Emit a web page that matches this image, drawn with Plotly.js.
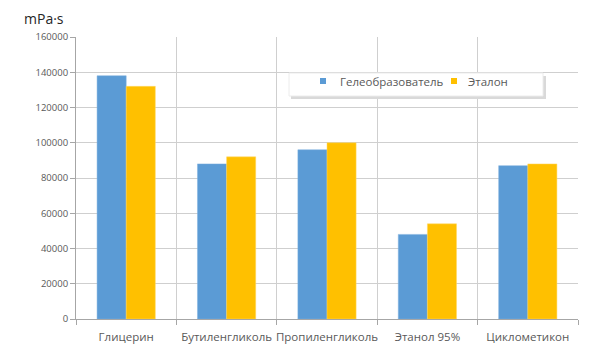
<!DOCTYPE html>
<html>
<head>
<meta charset="utf-8">
<script src="https://cdn.plot.ly/plotly-3.0.1.min.js"></script>
<style>html,body{margin:0;padding:0;background:#fff;}#chart{width:607px;height:359px;}</style>
</head>
<body>
<div id="chart"></div>
<script>
var categories = ["Глицерин", "Бутиленгликоль", "Пропиленгликоль", "Этанол 95%", "Циклометикон"];
var seriesNames = ["Гелеобразователь", "Эталон"];
var seriesColors = ["#5b9bd5", "#ffc000"];
var gelValues = [138000, 88000, 96000, 48000, 87000];
var refValues = [132000, 92000, 100000, 54000, 88000];
var yTickVals = [0, 20000, 40000, 60000, 80000, 100000, 120000, 140000, 160000];
var unitLabel = "mPa·s";

var W = 607, H = 359;
var L = 76, R = 29, T = 37, B = 40;
var pw = W - L - R, ph = H - T - B;
function px(x) { return (x - L) / pw; }
function py(y) { return (H - B - y) / ph; }

var font = "'Open Sans', 'DejaVu Sans', sans-serif";

var traces = [
  { type: "bar", name: seriesNames[0], x: categories, y: gelValues, showlegend: false,
    marker: { color: seriesColors[0], line: { color: "#7fb0de", width: 0.5 } } },
  { type: "bar", name: seriesNames[1], x: categories, y: refValues, showlegend: false,
    marker: { color: seriesColors[1], line: { color: "#ffd966", width: 0.5 } } }
];

// legend drawn as a framed box with square swatches and text labels
var legendSwatchX = [320, 451];
var legendTextX = [338, 466];
var legendY = 81;

var shapes = [
  { type: "rect", xref: "paper", yref: "paper", x0: px(291), x1: px(546), y0: py(76), y1: py(99),
    fillcolor: "#d9d9d9", line: { width: 0 }, layer: "above" },
  { type: "rect", xref: "paper", yref: "paper", x0: px(289), x1: px(543), y0: py(73), y1: py(96),
    fillcolor: "#ffffff", line: { color: "#ececec", width: 1 }, layer: "above" }
];
var annotations = [];
for (var i = 0; i < seriesNames.length; i++) {
  shapes.push({ type: "rect", xref: "paper", yref: "paper",
    x0: px(legendSwatchX[i]), x1: px(legendSwatchX[i] + 6), y0: py(legendY - 3), y1: py(legendY + 3),
    fillcolor: seriesColors[i], line: { width: 0 }, layer: "above" });
  annotations.push({ xref: "paper", yref: "paper", x: px(legendTextX[i]), y: py(legendY),
    xanchor: "left", yanchor: "middle", showarrow: false, text: seriesNames[i],
    font: { family: font, size: 11.5, color: "#595959" } });
}

var layout = {
  width: W, height: H,
  margin: { l: L, r: R, t: T, b: B, pad: 0 },
  paper_bgcolor: "#ffffff", plot_bgcolor: "#ffffff",
  font: { family: font, color: "#595959", size: 10 },
  title: { text: unitLabel, xref: "container", yref: "container", x: 24 / W, xanchor: "left",
           y: 1 - 19 / H, yanchor: "middle", font: { family: font, size: 14, color: "#262626" } },
  barmode: "group", bargap: 0.42, bargroupgap: 0,
  xaxis: {
    type: "category", range: [-0.5, 4.5], tickson: "boundaries", tickangle: 0,
    showgrid: true, gridcolor: "#cfcfcf", gridwidth: 1,
    showline: true, linecolor: "#a6a6a6", linewidth: 1,
    ticks: "outside", ticklen: 5, tickcolor: "#a6a6a6", ticklabelstandoff: 7,
    tickfont: { family: font, size: 11.5, color: "#595959" }, fixedrange: true
  },
  yaxis: {
    range: [0, 160000], tickvals: yTickVals, ticktext: yTickVals.map(String),
    showgrid: true, gridcolor: "#cfcfcf", gridwidth: 1, zeroline: false,
    showline: true, linecolor: "#a6a6a6", linewidth: 1,
    ticks: "outside", ticklen: 5, tickcolor: "#a6a6a6",
    tickfont: { family: font, size: 9.5, color: "#595959" }, fixedrange: true
  },
  showlegend: false,
  shapes: shapes,
  annotations: annotations
};

Plotly.newPlot("chart", traces, layout, { displayModeBar: false, staticPlot: true });
</script>
</body>
</html>
